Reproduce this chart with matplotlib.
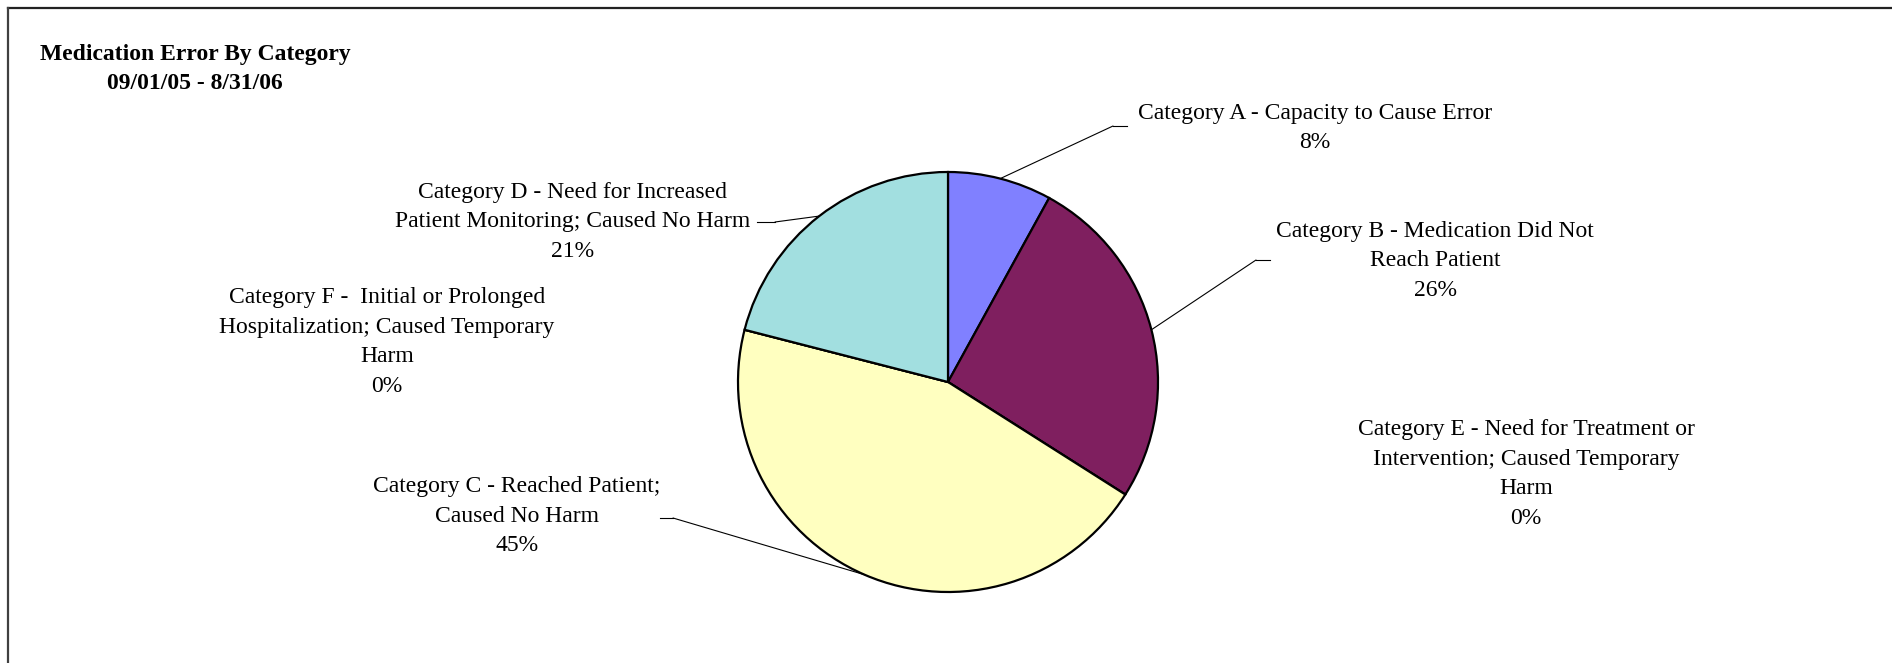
"""Medication error by category - pie chart with leader-line labels."""

import numpy as np
import matplotlib
matplotlib.use('Agg')
import matplotlib.pyplot as plt
from matplotlib.lines import Line2D

W, H = 1892, 663
DPI = 100

TITLE = 'Medication Error By Category\n09/01/05 - 8/31/06'

# wedge order, clockwise from 12 o'clock
CATEGORIES = [
    'Category A - Capacity to Cause Error',
    'Category B - Medication Did Not\nReach Patient',
    'Category E - Need for Treatment or\nIntervention; Caused Temporary\nHarm',
    'Category C - Reached Patient;\nCaused No Harm',
    'Category F -  Initial or Prolonged\nHospitalization; Caused Temporary\nHarm',
    'Category D - Need for Increased\nPatient Monitoring; Caused No Harm',
]
VALUES = [8, 26, 0, 45, 0, 21]
COLORS = ['#8080FF', '#7F1F5F', '#FFFFFF', '#FFFFC0', '#FFFFFF', '#A2DFE0']

# label block centres in pixels (top-left origin)
LABEL_XY = [(1315, 128), (1435, 261), (1526, 474),
            (517, 516), (387, 342), (573, 222)]
# leader line: (elbow, stub end) in pixels, None = no leader
LEADERS = [((1113, 126), (1127, 126)),
           ((1256, 260), (1270, 260)),
           None,
           ((673, 518), (660, 518)),
           None,
           ((775, 222), (757, 222))]

PIE_CX, PIE_CY, PIE_R = 948, 382, 210
FONT = 'Liberation Serif'


def fpos(x, y):
    return x / W, 1 - y / H


def main():
    fig = plt.figure(figsize=(W / DPI, H / DPI), dpi=DPI)
    fig.patch.set_facecolor('white')

    # border (top and left edges visible)
    fig.add_artist(Line2D([8 / W, 1], [1 - 8 / H, 1 - 8 / H],
                          transform=fig.transFigure, color='#222222', lw=1.6))
    fig.add_artist(Line2D([8 / W, 8 / W], [0, 1 - 8 / H],
                          transform=fig.transFigure, color='#404040', lw=1.6))

    pad = 1.2
    half = PIE_R * pad
    ax = fig.add_axes([(PIE_CX - half) / W, 1 - (PIE_CY + half) / H,
                       2 * half / W, 2 * half / H])
    wedges, _ = ax.pie(VALUES, colors=COLORS, startangle=90, counterclock=False,
                       radius=1.0,
                       wedgeprops=dict(edgecolor='black', linewidth=1.6))
    for w in wedges:
        w.set_clip_on(False)
    ax.set_xlim(-pad, pad)
    ax.set_ylim(-pad, pad)
    ax.set_aspect('equal')
    ax.axis('off')

    total = float(sum(VALUES))
    cum = np.cumsum(VALUES) - np.array(VALUES) / 2.0

    for i, (label, val) in enumerate(zip(CATEGORIES, VALUES)):
        pct = f'{val / total:.0%}'
        x, y = LABEL_XY[i]
        fx, fy = fpos(x, y)
        fig.text(fx, fy, f'{label}\n{pct}', ha='center', va='center',
                 multialignment='center', fontsize=17, family=FONT,
                 linespacing=1.55, color='black')

        if LEADERS[i] is not None:
            ang = np.deg2rad(90 - 360 * cum[i] / total)
            edge = (np.cos(ang), np.sin(ang))
            elbow, end = LEADERS[i]
            ax.annotate('', xy=edge, xycoords='data',
                        xytext=fpos(*elbow), textcoords='figure fraction',
                        arrowprops=dict(arrowstyle='-', lw=0.8, color='black',
                                        shrinkA=0, shrinkB=0))
            (x0, y0), (x1, y1) = fpos(*elbow), fpos(*end)
            fig.add_artist(Line2D([x0, x1], [y0, y1], transform=fig.transFigure,
                                  color='black', lw=0.8))

    tx, ty = fpos(195, 69)
    fig.text(tx, ty, TITLE, ha='center', va='center', multialignment='center',
             fontsize=17, family=FONT, fontweight='bold', linespacing=1.45)

    fig.savefig('out.png', dpi=DPI, facecolor='white')


if __name__ == '__main__':
    main()
